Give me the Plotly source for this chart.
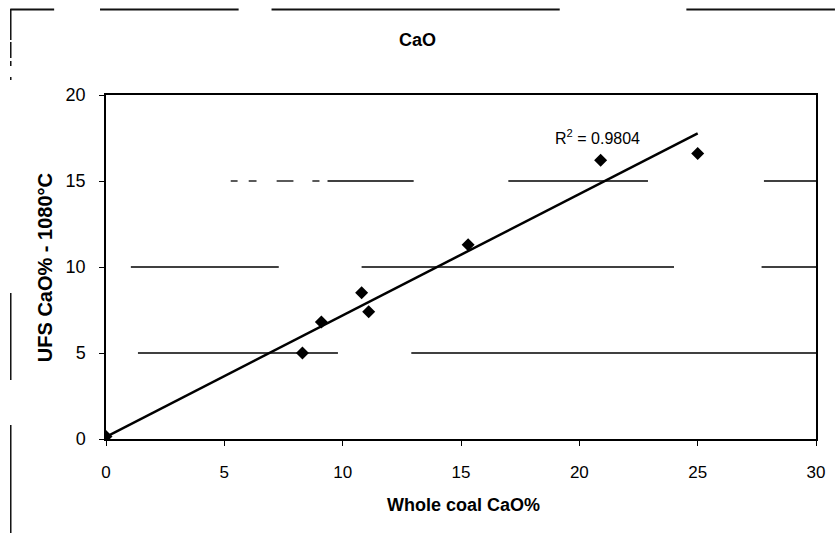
import numpy as np
import plotly.graph_objects as go

# ---- data ----
whole_coal_cao = [0.0, 8.3, 9.1, 10.8, 11.1, 15.3, 20.9, 25.0]
ufs_cao_1080 = [0.15, 5.0, 6.8, 8.5, 7.4, 11.3, 16.2, 16.6]
r2_label = "R<sup>2</sup> = 0.9804"
x_ticks = [0, 5, 10, 15, 20, 25, 30]
y_ticks = [0, 5, 10, 15, 20]

W, H = 837, 533
L, R, T, B = 106, 19, 95, 94
PW, PH = W - L - R, H - T - B

def px(x):
    return (x - L) / PW

def py(y):
    return (H - B - y) / PH

FONT = "Liberation Sans, Arial, sans-serif"

# linear trendline from the data
slope, intercept = np.polyfit(whole_coal_cao, ufs_cao_1080, 1)
tx = np.array([min(whole_coal_cao), max(whole_coal_cao)])
ty = slope * tx + intercept

fig = go.Figure()
fig.add_trace(go.Scatter(x=tx, y=ty, mode="lines",
                         line=dict(color="black", width=2.5), hoverinfo="skip"))
fig.add_trace(go.Scatter(x=whole_coal_cao, y=ufs_cao_1080, mode="markers",
                         marker=dict(symbol="diamond", size=10, color="black")))

shapes = []
# broken (scanned) gridlines, in data units
grid_segments = [
    (15, 5.27, 5.56), (15, 6.03, 6.36), (15, 7.21, 7.92), (15, 8.72, 9.02),
    (15, 9.36, 13.0), (15, 17.0, 22.9), (15, 27.8, 30.0),
    (10, 1.05, 7.3), (10, 10.8, 24.0), (10, 27.7, 30.0),
    (5, 1.35, 9.8), (5, 12.9, 30.0),
]
for yv, x0, x1 in grid_segments:
    shapes.append(dict(type="line", xref="x", yref="y", x0=x0, x1=x1, y0=yv, y1=yv,
                       line=dict(color="black", width=1.3), layer="below"))

# broken outer frame of the scanned figure (pixel positions)
frame_h = [(10, 54), (100, 239), (272, 561), (688, 837)]
for a, b in frame_h:
    shapes.append(dict(type="line", xref="paper", yref="paper",
                       x0=px(a), x1=px(b), y0=py(9.5), y1=py(9.5),
                       line=dict(color="#111", width=2)))
frame_v = [(9, 40), (42, 58), (61, 66), (77, 80), (293, 380), (425, 533)]
for a, b in frame_v:
    shapes.append(dict(type="line", xref="paper", yref="paper",
                       x0=px(10.5), x1=px(10.5), y0=py(a), y1=py(b),
                       line=dict(color="#111", width=1.5)))

annotations = [
    dict(text="<b>CaO</b>", xref="paper", yref="paper", x=px(418), y=py(40),
         xanchor="center", yanchor="middle",
         showarrow=False, font=dict(family=FONT, size=18, color="black")),
    dict(text="<b>Whole coal CaO%</b>", xref="paper", yref="paper", x=px(465), y=py(505),
         xanchor="center", yanchor="middle",
         showarrow=False, font=dict(family=FONT, size=18, color="black")),
    dict(text="<b>UFS CaO% - 1080°C</b>", xref="paper", yref="paper", x=px(45), y=py(268),
         xanchor="center", yanchor="middle",
         showarrow=False, textangle=-90, font=dict(family=FONT, size=20, color="black")),
    dict(text=r2_label, xref="paper", yref="paper", x=px(599), y=py(137),
         xanchor="center", yanchor="middle",
         showarrow=False, font=dict(family=FONT, size=16, color="black")),
]

axis_common = dict(showgrid=False, zeroline=False, showline=True, mirror=True,
                   linecolor="black", linewidth=1.5, ticks="outside", ticklen=5,
                   tickcolor="black", tickwidth=1)

fig.update_layout(
    width=W, height=H,
    margin=dict(l=L, r=R, t=T, b=B),
    paper_bgcolor="white", plot_bgcolor="white",
    showlegend=False,
    xaxis=dict(range=[0, 30], tickvals=x_ticks, ticklabelstandoff=12,
               tickfont=dict(family=FONT, size=17, color="black"), **axis_common),
    yaxis=dict(range=[0, 20], tickvals=y_ticks, ticklabelstandoff=10,
               tickfont=dict(family=FONT, size=18, color="black"), **axis_common),
    shapes=shapes,
    annotations=annotations,
)

fig.write_html("out.html")
